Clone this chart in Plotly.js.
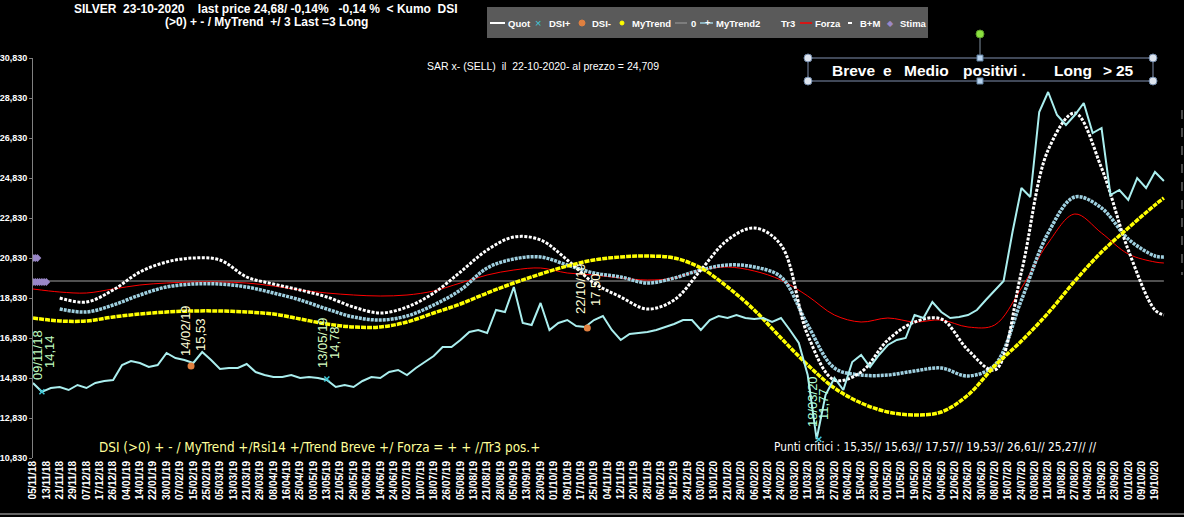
<!DOCTYPE html>
<html><head><meta charset="utf-8">
<script src="https://cdn.plot.ly/plotly-3.0.1.min.js"></script>
<style>html,body{margin:0;padding:0;background:#000;}#chart{width:1184px;height:517px;}</style>
</head><body><div id="chart"></div>
<script>
// ---- DATA ----
const tickLabels = ["05/11/18","13/11/18","21/11/18","29/11/18","07/12/18","17/12/18","26/12/18","04/01/19","14/01/19","22/01/19","30/01/19","07/02/19","15/02/19","25/02/19","05/03/19","13/03/19","21/03/19","29/03/19","08/04/19","16/04/19","25/04/19","03/05/19","13/05/19","21/05/19","29/05/19","06/06/19","14/06/19","24/06/19","02/07/19","10/07/19","18/07/19","26/07/19","05/08/19","13/08/19","21/08/19","28/08/19","05/09/19","13/09/19","23/09/19","01/10/19","09/10/19","17/10/19","25/10/19","04/11/19","12/11/19","20/11/19","28/11/19","06/12/19","16/12/19","24/12/19","03/01/20","13/01/20","21/01/20","29/01/20","06/02/20","14/02/20","24/02/20","03/03/20","11/03/20","19/03/20","27/03/20","06/04/20","15/04/20","23/04/20","01/05/20","11/05/20","19/05/20","27/05/20","04/06/20","12/06/20","22/06/20","30/06/20","08/07/20","16/07/20","24/07/20","03/08/20","11/08/20","19/08/20","27/08/20","04/09/20","15/09/20","23/09/20","01/10/20","09/10/20","19/10/20"];
const daysPerTick = 6;
const lastDay = 508;

// Quot: one reading every 4 trading days
const quotStep = 4;
const quot = [14.58,14.14,14.33,14.38,14.23,14.48,14.33,14.58,14.68,14.73,
15.48,15.68,15.58,15.38,15.48,16.08,15.83,15.73,15.58,16.13,
15.73,15.28,15.33,15.33,15.53,15.13,14.98,14.88,14.88,14.98,
14.83,14.88,14.83,14.73,14.38,14.48,14.38,14.68,14.88,14.83,
15.13,15.23,14.98,15.33,15.63,15.93,16.38,16.38,16.73,17.13,
17.23,17.08,18.23,18.13,19.38,17.58,17.48,18.58,17.23,17.58,
17.73,17.43,17.38,17.73,17.93,17.23,16.73,17.03,17.08,17.13,
17.23,17.38,17.53,17.73,17.73,17.23,17.73,17.93,17.83,17.98,
17.83,17.78,17.83,17.63,17.83,17.23,16.58,14.98,11.77,13.98,
14.83,14.23,15.63,15.98,15.38,15.98,16.48,16.73,16.83,17.98,
17.83,18.63,18.13,17.83,17.88,17.98,18.23,18.73,19.23,19.68,
22.13,24.33,23.88,28.13,29.13,27.98,27.48,27.98,28.58,27.08,
27.33,23.98,24.23,23.73,24.83,24.33,25.13,24.68];

// smooth indicators: one reading every 12 trading days, last one on the final day
const smoothStep = 12;
const myTrend = [17.83,17.68,17.68,17.88,18.03,18.13,18.18,18.18,18.13,18.03,
17.78,17.53,17.38,17.38,17.63,18.08,18.53,19.08,19.58,20.03,
20.43,20.73,20.88,20.93,20.83,20.33,19.38,18.23,16.83,15.48,
14.33,13.58,13.13,12.98,13.13,13.98,15.43,16.68,18.08,19.68,
21.13,22.33,23.48,23.83];
const myTrend2 = [null,18.28,18.13,18.48,18.98,19.38,19.53,19.53,19.38,19.08,
18.73,18.28,17.88,17.73,17.93,18.48,19.23,20.33,20.78,20.88,
20.48,20.08,19.88,19.58,19.83,20.23,20.48,20.38,19.88,17.48,
15.33,14.98,14.98,15.18,15.33,14.93,15.48,18.73,22.08,23.88,
23.33,21.78,20.93,20.88];
const bm = [null,18.83,18.63,19.23,20.13,20.63,20.83,20.73,19.88,19.53,
19.23,18.88,18.38,18.08,18.38,19.08,20.13,21.23,21.88,21.73,
20.73,19.58,18.88,18.28,18.73,20.23,21.73,22.33,21.48,16.98,
14.73,15.13,16.73,17.63,17.78,16.23,15.23,20.13,26.23,28.08,
25.33,21.23,18.23,17.98];
const forza = [19.28,19.13,19.08,19.28,19.48,19.58,19.63,19.63,19.58,19.43,
19.23,19.08,18.98,18.93,18.98,19.18,19.58,19.98,20.23,20.33,
20.08,19.98,19.83,19.73,19.83,20.23,20.38,20.18,19.73,18.93,
17.98,17.63,17.83,17.63,17.73,17.38,17.48,19.33,21.58,23.03,
22.08,21.03,20.63,20.58];
const zeroLevel = 19.68;

const dsiPlusDays = [4,132,353];
const dsiPlusValues = [14.14,14.78,11.77];
const dsiMinusDays = [71,249];
const dsiMinusValues = [15.43,17.33];
const stimaDays = [0,1,2,0,1,2,3,4,5,6];
const stimaValues = [20.83,20.83,20.83,19.63,19.63,19.63,19.63,19.63,19.63,19.63];

const yTicks = [10.83,12.83,14.83,16.83,18.83,20.83,22.83,24.83,26.83,28.83,30.83];

// ---- BUILD ----
const quotDays = quot.map((_, j) => Math.min(j * quotStep, lastDay));
const smoothDays = myTrend.map((_, k) => Math.min(k * smoothStep, lastDay));
const tickVals = tickLabels.map((_, i) => i * daysPerTick);

const traces = [
  {x:[0,lastDay], y:[zeroLevel,zeroLevel], mode:'lines', line:{color:'#a0a0a0', width:1}, name:'0'},
  {x:smoothDays, y:forza, mode:'lines', line:{color:'#ff0000', width:1, shape:'spline'}, name:'Forza'},
  {x:smoothDays, y:myTrend2, mode:'lines', line:{color:'#9fd0e0', width:3.5, dash:'3px,1px', shape:'spline'}, name:'MyTrend2'},
  {x:smoothDays, y:bm, mode:'lines', line:{color:'#ffffff', width:3, dash:'3px,1.5px', shape:'spline'}, name:'B+M'},
  {x:smoothDays, y:myTrend, mode:'lines', line:{color:'#ffff00', width:3.5, dash:'5px,1px', shape:'spline'}, name:'MyTrend'},
  {x:quotDays, y:quot, mode:'lines', line:{color:'#aaeeee', width:2}, name:'Quot'},
  {x:stimaDays, y:stimaValues, mode:'markers', marker:{symbol:'diamond', size:6, color:'#9a88c8'}, name:'Stima'},
  {x:dsiPlusDays, y:dsiPlusValues, mode:'markers', marker:{symbol:'x-thin', size:5, line:{color:'#40c8d8', width:1.5}}, name:'DSI+'},
  {x:dsiMinusDays, y:dsiMinusValues, mode:'markers', marker:{symbol:'circle', size:7, color:'#e08040'}, name:'DSI-'}
];

const PX = px => (px - 33) / 1132;
const PY = py => (458 - py) / 400;
const NB = s => s.replace(/ /g, '\u00a0');

const shapes = [];
const annotations = [];
const F = 'Liberation Sans, Arial, sans-serif';
const FN = 'Liberation Sans Narrow, Arial Narrow, DejaVu Sans Condensed, Liberation Sans, sans-serif';

function txt(text, x, y, opt) {
  annotations.push(Object.assign({text: text, xref:'paper', yref:'paper', x: PX(x), y: PY(y),
    showarrow:false, xanchor:'left', yanchor:'middle', font:{family:F, size:10, color:'#fff'}}, opt || {}));
}
function line(x0, y0, x1, y1, color, width, dash) {
  shapes.push({type:'line', xref:'paper', yref:'paper', x0:PX(x0), y0:PY(y0), x1:PX(x1), y1:PY(y1),
    line:{color:color, width:width || 1, dash:dash || 'solid'}});
}
function circ(cx, cy, r, fill, stroke) {
  shapes.push({type:'circle', xref:'paper', yref:'paper', x0:PX(cx-r), x1:PX(cx+r), y0:PY(cy+r), y1:PY(cy-r),
    fillcolor:fill, line:{color:stroke, width:1}});
}
function rect(x0, y0, x1, y1, fill, stroke, w) {
  shapes.push({type:'rect', xref:'paper', yref:'paper', x0:PX(x0), x1:PX(x1), y0:PY(y1), y1:PY(y0),
    fillcolor:fill, line:{color:stroke || 'rgba(0,0,0,0)', width:w || 0}});
}

// Title
txt(NB('SILVER  23-10-2020    last price 24,68/ -0,14%   -0,14 %  &lt; Kumo  DSI'), 266, 9,
  {xanchor:'center', font:{family:F, size:12, color:'#fff', weight:'bold'}});
txt(NB('(&gt;0) + - / MyTrend  +/ 3 Last =3 Long'), 266, 22,
  {xanchor:'center', font:{family:F, size:12, color:'#fff', weight:'bold'}});

// Legend box
rect(487, 7, 928, 38, '#5a5a5a');
const LY = 23;
const LF = {family:F, size:9.5, color:'#fff', weight:'bold'};
line(490, LY, 505, LY, '#ffffff', 2);           txt('Quot', 506, LY, {font:LF});
txt('×', 538, LY, {xanchor:'center', font:{family:F, size:11, color:'#40c8d8'}});  txt('DSI+', 547, LY, {font:LF});
circ(582, LY, 3, '#e08040', '#e08040');        txt('DSI-', 590, LY, {font:LF});
circ(622, LY, 2, '#ffff00', '#ffff00');        txt('MyTrend', 630, LY, {font:LF});
line(675, LY, 687, LY, '#a0a0a0', 1);          txt('0', 689, LY, {font:LF});
line(700, LY, 713, LY, '#9fd0e0', 1.5);        txt('+', 707, LY, {xanchor:'center', font:{family:F, size:9, color:'#fff', weight:'bold'}});
txt('MyTrend2', 714, LY, {font:LF});
txt('Tr3', 779, LY, {font:LF});
line(800, LY, 812, LY, '#ff0000', 1.5);        txt('Forza', 813, LY, {font:LF});
line(848, LY, 852, LY, '#ffffff', 2);          txt('B+M', 858, LY, {font:LF});
txt('◆', 891, LY, {xanchor:'center', font:{family:'DejaVu Sans', size:8, color:'#9a88c8'}});
txt('Stima', 898, LY, {font:LF});

// SAR note
txt(NB('SAR x- (SELL)  il  22-10-2020- al prezzo = 24,709'), 543, 66,
  {xanchor:'center', font:{family:F, size:10.5, color:'#fff'}});

// Breve box with handles
rect(808, 58, 1153, 81, 'rgba(0,0,0,0)', '#8090b0', 1);
line(980, 38, 980, 55, '#8090a0', 1);
circ(980, 34, 4, '#8ce040', '#5a9a28');
[[808,58],[1153,58],[808,81],[1153,81]].forEach(p => circ(p[0], p[1], 4, '#dde4ee', '#7088a8'));
[[980,58],[980,81]].forEach(p => rect(p[0]-3, p[1]-3, p[0]+3, p[1]+3, '#b8d4f0', '#6080a0', 1));
const BF = {family:F, size:15.5, color:'#fff', weight:'bold'};
[['Breve', 830], ['e', 881], ['Medio', 902], ['positivi .', 961], ['Long', 1052], ['&gt;', 1101], ['25', 1114]]
  .forEach(w => txt(w[0], w[1], 70, {font:BF}));

// rotated DSI notes
const notes = [
  ['09/11/18', 37, 355, '#c0ffc0'], ['14,14', 49, 352, '#c0ffc0'],
  ['14/02/19', 185, 331, '#ffffd8'], ['15,53', 200, 335, '#ffffd8'],
  ['13/05/19', 322, 343, '#d8ffc0'], ['14,78', 334, 343, '#d8ffc0'],
  ['22/10/19', 580, 289, '#ffffd8'], ['17,50', 595, 290, '#ffffd8'],
  ['18/03/20', 812, 402, '#b0ffd8'], ['11,77', 823, 404, '#b0ffd8']
];
notes.forEach(n => txt(n[0], n[1], n[2], {xanchor:'center', textangle:-90, font:{family:F, size:13, color:n[3]}}));

// bottom notes
txt(NB('DSI (&gt;0) + - / MyTrend +/Rsi14 +/Trend Breve +/ Forza = + + //Tr3 pos.+'), 97, 447,
  {font:{family:FN, size:13.4, color:'#ffff99'}});
txt(NB('Punti critici : 15,35// 15,63// 17,57// 19,53// 26,61// 25,27// //'), 772, 447,
  {font:{family:FN, size:11.8, color:'#ffffff'}});

// frame bits
line(1182, 110, 1182, 275, '#909090', 1, 'dash');
line(0, 514, 1184, 514, '#c8c8c8', 1);

const layout = {
  width:1184, height:517,
  paper_bgcolor:'#000000', plot_bgcolor:'#000000',
  margin:{l:33, r:19, t:58, b:59},
  showlegend:false,
  separators:',.',
  xaxis:{range:[0, lastDay + 0.5], tickmode:'array', tickvals:tickVals, ticktext:tickLabels, tickangle:-90,
    tickfont:{family:F, size:10, color:'#ffffff', weight:'bold'}, showgrid:false, zeroline:false, showline:false, ticks:''},
  yaxis:{range:[10.83, 30.83], tickmode:'array', tickvals:yTicks, tickformat:'.3f', ticks:'outside', ticklen:3,
    tickcolor:'#808080', showline:true, linecolor:'#808080', linewidth:1, showgrid:false, zeroline:false,
    tickfont:{family:F, size:9, color:'#ffffff', weight:'bold'}},
  shapes:shapes,
  annotations:annotations
};

Plotly.newPlot('chart', traces, layout, {staticPlot:true, displayModeBar:false});
</script>
</body></html>
